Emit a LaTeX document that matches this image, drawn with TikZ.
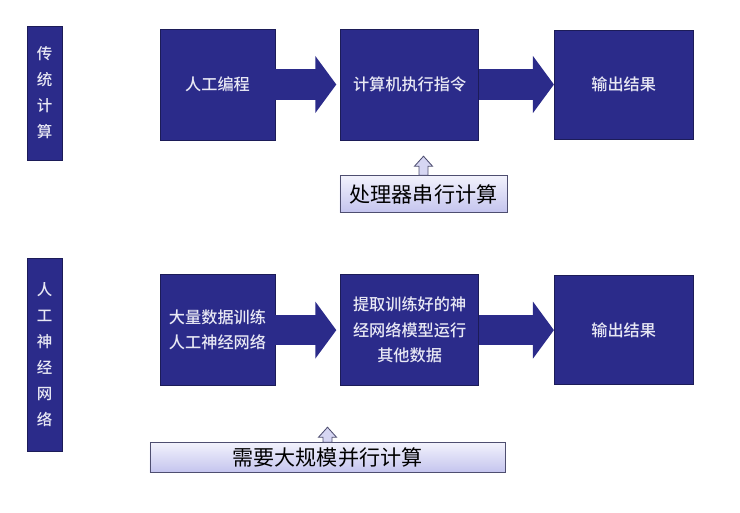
\documentclass[tikz,border=0pt]{standalone}
\usepackage{fontspec}
\newfontfamily\cjk{Noto Sans CJK SC}[BoldFont={Noto Sans CJK SC Medium}]
\usetikzlibrary{arrows.meta,positioning}
\definecolor{boxblue}{RGB}{43,43,138}
\definecolor{boxedge}{RGB}{28,28,88}
\definecolor{boxtext}{RGB}{232,232,244}
\definecolor{lavtop}{RGB}{242,242,252}
\definecolor{lavbot}{RGB}{196,196,238}
\definecolor{lavedge}{RGB}{78,78,112}

% small hollow arrow standing on top of a hint node
\newcommand{\hollowup}[2]{%
  \filldraw[hollow] (#1.north) ++(-4.5,0) -- ++(0,-#2+10) -- ++(-4.5,0)
    -- ++(9,-10) -- ++(9,10) -- ++(-4.5,0) -- ++(0,#2-10) -- cycle;}

\begin{document}
\begin{tikzpicture}[
  x=0.025cm, y=-0.025cm,
  font=\cjk,
  side/.style={draw=boxedge, fill=boxblue, text=boxtext, minimum width=8.75mm, inner sep=0pt, align=center, font=\cjk\bfseries\fontsize{11}{18.5}\selectfont},
  stage/.style={draw=boxedge, fill=boxblue, text=boxtext, minimum height=27.75mm, inner sep=0pt, align=center, font=\cjk\bfseries\fontsize{11.5}{18}\selectfont},
  hint/.style={draw=lavedge, top color=lavtop, bottom color=lavbot, inner sep=0pt, font=\cjk\fontsize{15}{15}\selectfont},
  fat/.style={boxblue, line width=7.5mm, -{Triangle[length=5.25mm, width=14mm]}},
  hollow/.style={draw=lavedge, fill=lavbot!70, line width=0.6pt}
]
  \useasboundingbox (0,0) rectangle (740,512);

  % traditional computing
  \node[side, minimum height=33.5mm] (trad) at (44.5,93) {传\\统\\计\\算};
  \node[stage, minimum width=28.75mm] (prog) at (217.5,84.5) {人工编程};
  \node[stage, minimum width=34.5mm, right=16.25mm of prog] (exec) {计算机执行指令};
  \node[stage, minimum width=34.75mm, minimum height=27.25mm, right=18.75mm of exec] (out1) {输出结果};

  \draw[fat, shorten >=1mm] (prog) -- (exec);
  \draw[fat] (exec) -- (out1);

  \node[hint, minimum width=41.75mm, minimum height=9.25mm] (serial) at (423.5,194) {处理器串行计算};
  \hollowup{serial}{19}

  % artificial neural network
  \node[side, minimum height=48.25mm] (ann) at (44.5,355) {人\\工\\神\\经\\网\\络};
  \node[stage, minimum width=28.75mm, below=33.5mm of prog] (train) {大量数据训练\\人工神经网络};
  \node[stage, minimum width=34.5mm, right=16.25mm of train] (run) {提取训练好的神\\经网络模型运行\\其他数据};
  \node[stage, minimum width=34.75mm, minimum height=27.25mm, right=18.75mm of run] (out2) {输出结果};

  \draw[fat, shorten >=1mm] (train) -- (run);
  \draw[fat] (run) -- (out2);

  \node[hint, minimum width=88.75mm, minimum height=7.5mm] (parallel) at (327.5,457.5) {需要大规模并行计算};
  \hollowup{parallel}{15}
\end{tikzpicture}
\end{document}
